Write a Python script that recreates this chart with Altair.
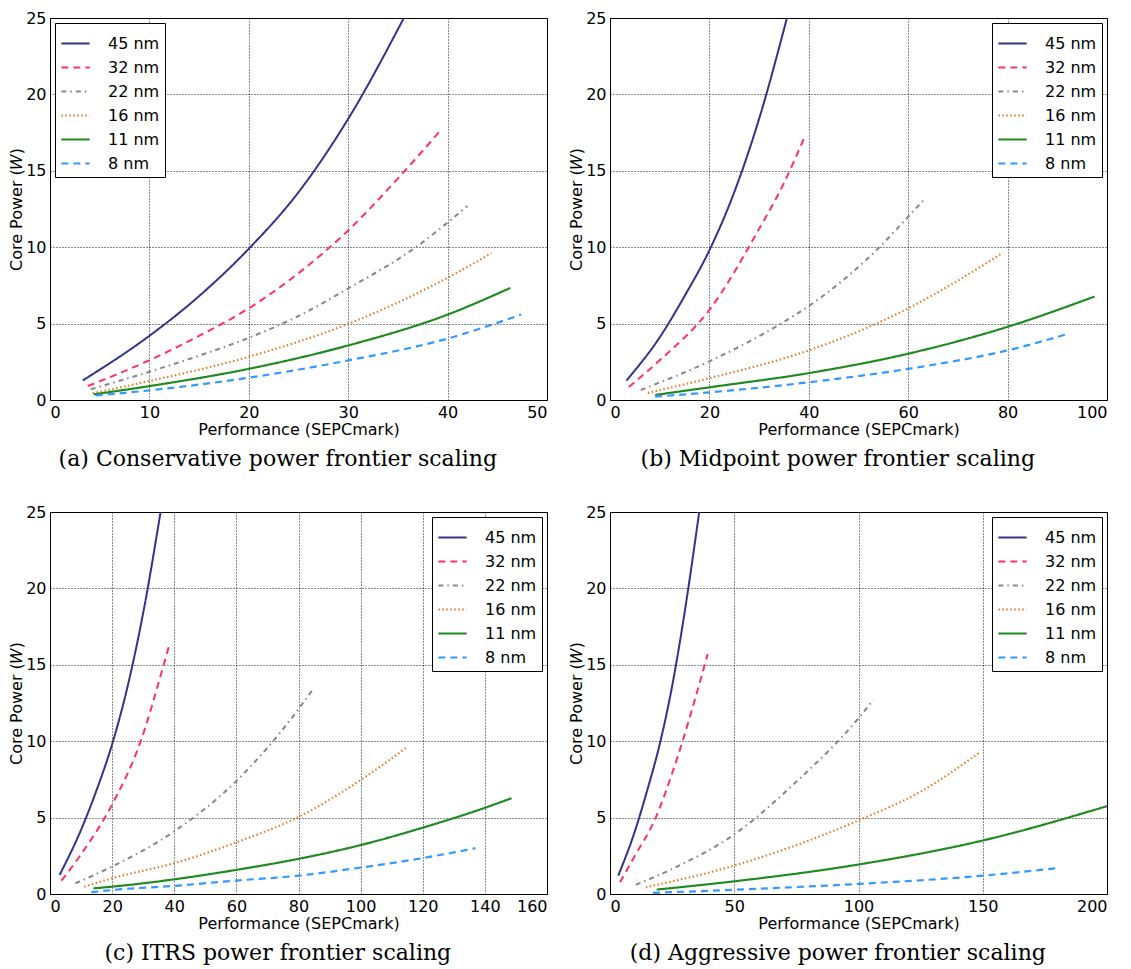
import altair as alt
import pandas as pd

NODES = ["45 nm", "32 nm", "22 nm", "16 nm", "11 nm", "8 nm"]
COLORS = ["#34338a", "#ff3366", "#8a8a8a", "#e07b28", "#1f8a1f", "#3399ff"]
DASHES = [[1, 0], [7, 5], [5, 4, 1.5, 4], [1.5, 2.5], [1, 0], [7, 5]]
WIDTHS = [2, 2.2, 1.8, 1.6, 2.4, 2.4]

# (a) Conservative
A_X = {
    "45 nm": [3.3, 10, 15, 20, 25, 30, 35.6],
    "32 nm": [3.8, 10, 15, 20, 25, 30, 35, 39.3],
    "22 nm": [4.1, 10, 15, 20, 25, 30, 36.8, 42],
    "16 nm": [4.3, 10, 20, 30, 40, 44.4],
    "11 nm": [4.4, 10, 20, 30, 40, 46.3],
    "8 nm": [4.6, 10, 20, 30, 40, 47.4],
}
A_Y = {
    "45 nm": [1.28, 4.2, 6.8, 9.9, 13.6, 18.4, 25],
    "32 nm": [0.91, 2.6, 4.2, 6.0, 8.3, 11.1, 14.5, 17.65],
    "22 nm": [0.7, 1.85, 2.9, 4.07, 5.5, 7.3, 10.0, 12.7],
    "16 nm": [0.45, 1.24, 2.83, 4.98, 8.0, 9.6],
    "11 nm": [0.37, 0.91, 2.04, 3.57, 5.59, 7.33],
    "8 nm": [0.3, 0.63, 1.46, 2.59, 4.02, 5.59],
}

# (b) Midpoint
B_X = {
    "45 nm": [3.3, 10, 15, 20, 25, 30, 35.6],
    "32 nm": [3.8, 10, 20, 30, 35, 39],
    "22 nm": [6.2, 20, 34.4, 40, 54.2, 60, 63.1],
    "16 nm": [7.6, 20, 40, 53.6, 60, 79],
    "11 nm": [9.1, 20, 40, 60, 80, 97.5],
    "8 nm": [9.1, 20, 40, 60, 80, 92.4],
}
B_Y = {
    "45 nm": [1.27, 4.1, 6.8, 9.8, 13.6, 18.4, 25],
    "32 nm": [0.85, 2.6, 5.9, 11.2, 14.2, 17.1],
    "22 nm": [0.66, 2.53, 5.0, 6.15, 10.0, 12.0, 13.07],
    "16 nm": [0.46, 1.43, 3.25, 5.0, 6.0, 9.62],
    "11 nm": [0.33, 0.83, 1.76, 3.03, 4.79, 6.77],
    "8 nm": [0.22, 0.5, 1.16, 2.04, 3.25, 4.35],
}

# (c) ITRS
C_X = {
    "45 nm": [3.1, 10, 15, 20, 25, 30, 35.6],
    "32 nm": [3.7, 10, 20, 29.2, 36.6, 38.4],
    "22 nm": [8.2, 20, 40, 60, 80, 85],
    "16 nm": [11, 20, 40, 60, 80, 100, 114.5],
    "11 nm": [14, 20, 40, 60, 80, 100, 120, 140, 148.6],
    "8 nm": [13.3, 20, 40, 60, 80, 100, 120, 137],
}
C_Y = {
    "45 nm": [1.25, 4.2, 6.8, 9.8, 13.6, 18.4, 25],
    "32 nm": [0.88, 2.6, 5.86, 10, 15, 16.3],
    "22 nm": [0.7, 1.8, 4.1, 7.4, 12.1, 13.5],
    "16 nm": [0.48, 1.03, 2.02, 3.38, 5.04, 7.46, 9.54],
    "11 nm": [0.37, 0.48, 0.96, 1.58, 2.3, 3.2, 4.34, 5.64, 6.27],
    "8 nm": [0.11, 0.26, 0.53, 0.88, 1.2, 1.73, 2.35, 3.0],
}

# (d) Aggressive
D_X = {
    "45 nm": [3.3, 10, 15, 20, 25, 30, 35.9],
    "32 nm": [4, 10, 18.4, 25, 29.2, 35, 39.3],
    "22 nm": [10.4, 25, 50, 75, 100, 105.9],
    "16 nm": [14.4, 50, 75, 100, 125, 148.6],
    "11 nm": [18.8, 50, 100, 150, 200],
    "8 nm": [17.3, 50, 100, 150, 180.9],
}
D_Y = {
    "45 nm": [1.2, 4.1, 6.8, 9.8, 13.6, 18.4, 25],
    "32 nm": [0.77, 2.5, 5, 7.9, 10, 13.2, 15.7],
    "22 nm": [0.6, 1.64, 3.9, 7.35, 11.5, 12.7],
    "16 nm": [0.44, 1.86, 3.2, 4.82, 6.7, 9.25],
    "11 nm": [0.29, 0.83, 1.93, 3.5, 5.75],
    "8 nm": [0.07, 0.28, 0.66, 1.2, 1.71],
}

CAPTIONS = [
    "(a) Conservative power frontier scaling",
    "(b) Midpoint power frontier scaling",
    "(c) ITRS power frontier scaling",
    "(d) Aggressive power frontier scaling",
]
X_MAX = [50, 100, 160, 200]
X_STEP = [10, 20, 20, 50]
Y_TICKS = [0, 5, 10, 15, 20, 25]

W, H = 497, 382


def panel(xs, ys, xmax, xstep, caption, orient):
    rows = []
    for n in NODES:
        for x, y in zip(xs[n], ys[n]):
            rows.append({"node": n, "perf": x, "power": y})
    df = pd.DataFrame(rows)
    leg = alt.Legend(orient=orient, title=None, offset=5)
    return (
        alt.Chart(df)
        .mark_line(interpolate="monotone", clip=True)
        .encode(
            x=alt.X("perf:Q", scale=alt.Scale(domain=[0, xmax], nice=False),
                    axis=alt.Axis(values=list(range(0, xmax + 1, xstep)),
                                  title="Performance (SEPCmark)")),
            y=alt.Y("power:Q", scale=alt.Scale(domain=[0, 25], nice=False),
                    axis=alt.Axis(values=Y_TICKS, title="Core Power (𝑊)")),
            color=alt.Color("node:N", scale=alt.Scale(domain=NODES, range=COLORS), legend=leg),
            strokeDash=alt.StrokeDash("node:N", scale=alt.Scale(domain=NODES, range=DASHES), legend=leg),
            strokeWidth=alt.StrokeWidth("node:N", scale=alt.Scale(domain=NODES, range=WIDTHS), legend=None),
            detail="node:N",
        )
        .properties(
            width=W, height=H,
            title=alt.Title(caption, orient="bottom", font="DejaVu Serif",
                            fontSize=22, fontWeight="normal", color="black",
                            anchor="middle", frame="bounds", offset=12),
        )
    )


pa = panel(A_X, A_Y, X_MAX[0], X_STEP[0], CAPTIONS[0], "top-left")
pb = panel(B_X, B_Y, X_MAX[1], X_STEP[1], CAPTIONS[1], "top-right")
pc = panel(C_X, C_Y, X_MAX[2], X_STEP[2], CAPTIONS[2], "top-right")
pd_ = panel(D_X, D_Y, X_MAX[3], X_STEP[3], CAPTIONS[3], "top-right")

res = dict(color="independent", strokeDash="independent", strokeWidth="independent")
row1 = alt.hconcat(pa, pb, spacing=20).resolve_scale(**res).resolve_legend(color="independent", strokeDash="independent")
row2 = alt.hconcat(pc, pd_, spacing=20).resolve_scale(**res).resolve_legend(color="independent", strokeDash="independent")

chart = (
    alt.vconcat(row1, row2, spacing=32)
    .resolve_scale(**res)
    .resolve_legend(color="independent", strokeDash="independent")
    .properties(padding={"left": 0, "top": 1, "right": 0, "bottom": 0}, background="white")
    .configure_view(stroke="black", strokeWidth=1)
    .configure_axis(
        labelFont="DejaVu Sans", labelFontSize=16, labelColor="black",
        titleFont="DejaVu Sans", titleFontSize=16, titleFontWeight="normal", titleColor="black",
        ticks=False, domain=False, labelPadding=4, titlePadding=1,
        grid=True, gridColor="black", gridDash=[1, 2], gridWidth=1, gridOpacity=0.9,
    )
    .configure_legend(
        strokeColor="black", fillColor="white", padding=5, cornerRadius=0,
        labelFont="DejaVu Sans", labelFontSize=16, labelColor="black",
        symbolSize=800, symbolStrokeWidth=2, rowPadding=0, labelOffset=17,
    )
)

chart.save("out.html", embed_options={"renderer": "svg", "actions": False})
